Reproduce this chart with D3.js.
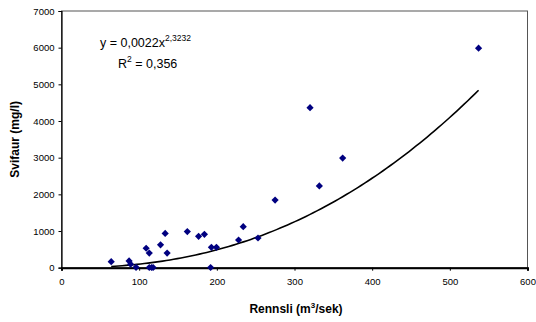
<!DOCTYPE html>
<html>
<head>
<meta charset="utf-8">
<script src="https://cdn.jsdelivr.net/npm/d3@7"></script>
<style>
  html, body { margin: 0; padding: 0; background: #fff; }
  svg { display: block; font-family: "Liberation Sans", Arial, sans-serif; }
</style>
</head>
<body>
<svg id="chart" width="536" height="322"></svg>
<script>
// Discharge (m3/s) against suspended sediment (mg/l)
const rennsli = [64, 87, 89, 96, 109, 113, 113, 116, 118, 127.5, 133.5, 136, 162, 176.5, 184, 192, 193, 199.5, 228, 234, 253, 275, 332, 362, 320, 537];
const svifaur = [165, 185, 95, 10, 530, 400, 5, 5, 5, 625, 935, 400, 985, 855, 910, 5, 555, 555, 755, 1120, 810, 1845, 2230, 2990, 4365, 5985];

const xTicks = [0, 100, 200, 300, 400, 500, 600];
const yTicks = [0, 1000, 2000, 3000, 4000, 5000, 6000, 7000];

// Power-law fit: y = a * x^b
const fitA = 0.0022, fitB = 2.3232;

const svg = d3.select("#chart");
const plot = { left: 61.5, right: 527.5, top: 11, bottom: 267.7 };

const x = d3.scaleLinear().domain([0, 600]).range([plot.left, plot.right]);
const y = d3.scaleLinear().domain([0, 7000]).range([plot.bottom, plot.top]);

// Frame (top and right edges)
svg.append("rect")
  .attr("x", plot.left).attr("y", plot.top)
  .attr("width", plot.right - plot.left).attr("height", plot.bottom - plot.top)
  .attr("fill", "none").attr("stroke", "#555").attr("stroke-width", 1);

// Y axis
const yAxis = svg.append("g")
  .attr("transform", `translate(${plot.left},0)`)
  .call(d3.axisLeft(y).tickValues(yTicks).tickSize(3).tickPadding(4).tickFormat(d3.format("d")));
yAxis.select(".domain").attr("stroke", "#000").attr("stroke-width", 1.2);
yAxis.selectAll("text").attr("font-size", 9.5).attr("fill", "#000")
  .attr("font-family", "Liberation Sans, Arial, sans-serif");

// X axis
const xAxis = svg.append("g")
  .attr("transform", `translate(0,${plot.bottom})`)
  .call(d3.axisBottom(x).tickValues(xTicks).tickSize(3).tickPadding(8).tickFormat(d3.format("d")));
xAxis.select(".domain").attr("stroke", "#000").attr("stroke-width", 2);
xAxis.selectAll("text").attr("font-size", 9.5).attr("fill", "#000")
  .attr("font-family", "Liberation Sans, Arial, sans-serif");

// Trend line over the observed discharge range
const xMin = d3.min(rennsli), xMax = d3.max(rennsli);
const fitPts = d3.range(0, 101).map(i => {
  const v = xMin + (xMax - xMin) * i / 100;
  return [v, fitA * Math.pow(v, fitB)];
});
svg.append("path")
  .datum(fitPts)
  .attr("d", d3.line().x(d => x(d[0])).y(d => y(d[1])))
  .attr("fill", "none").attr("stroke", "#000").attr("stroke-width", 1.6);

// Data markers (diamonds)
svg.append("g").selectAll("path")
  .data(rennsli.map((r, i) => [r, svifaur[i]]))
  .join("path")
  .attr("transform", d => `translate(${x(d[0])},${y(d[1])})`)
  .attr("d", "M0,-3.6L3.6,0L0,3.6L-3.6,0Z")
  .attr("fill", "#000080");

// Equation and R²
const eq = svg.append("text").attr("x", 100).attr("y", 47)
  .attr("font-size", 12.5).attr("fill", "#000");
eq.append("tspan").text("y = 0,0022x");
eq.append("tspan").attr("dy", -6).attr("font-size", 8.5).text("2,3232");

const r2 = svg.append("text").attr("x", 118).attr("y", 68)
  .attr("font-size", 12.5).attr("fill", "#000");
r2.append("tspan").text("R");
r2.append("tspan").attr("dy", -6).attr("font-size", 8.5).text("2");
r2.append("tspan").attr("dy", 6).text(" = 0,356");

// Axis titles
svg.append("text")
  .attr("transform", `translate(15,${(plot.top + plot.bottom) / 2}) rotate(-90)`)
  .attr("text-anchor", "middle").attr("dominant-baseline", "central")
  .attr("font-size", 12).attr("font-weight", "bold").attr("fill", "#000")
  .text("Svifaur (mg/l)");

const xt = svg.append("text").attr("x", 296).attr("y", 313)
  .attr("text-anchor", "middle")
  .attr("font-size", 12).attr("font-weight", "bold").attr("fill", "#000");
xt.append("tspan").text("Rennsli (m");
xt.append("tspan").attr("dy", -5).attr("font-size", 8).text("3");
xt.append("tspan").attr("dy", 5).text("/sek)");
</script>
</body>
</html>
